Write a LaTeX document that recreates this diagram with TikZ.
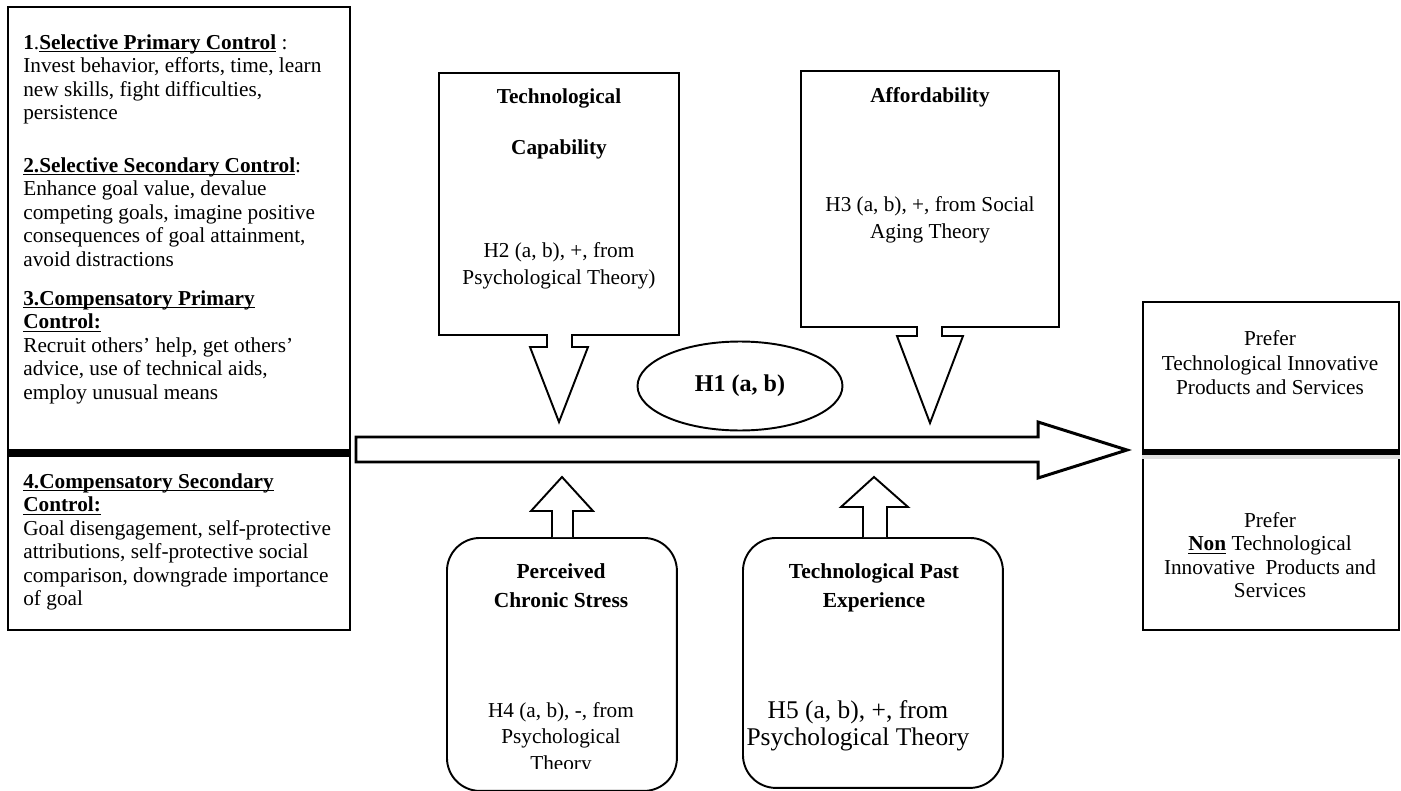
\documentclass[tikz,border=0pt]{standalone}
\usepackage{fontspec}
\setmainfont{Liberation Serif}
\usetikzlibrary{shapes.geometric,positioning}

\newcommand{\undl}[1]{\underline{\smash{#1}}}

\tikzset{
  panel/.style={draw, line width=1.1pt},
  txt/.style={inner sep=0pt, font=\fontsize{12.1}{13.35}\selectfont},
  midtxt/.style={inner sep=0pt, align=center, font=\fontsize{12.1}{15.3}\selectfont},
  factor/.style={draw, line width=1.1pt, rounded corners=0.66cm, anchor=north west},
  blockarrow/.style={draw, fill=white, line width=1.1pt, line join=miter},
  divider/.style={line width=4pt}
}

\begin{document}
\begin{tikzpicture}[x=0.02cm, y=-0.02cm]
    \useasboundingbox (0,0) rectangle (1401,791);

    % Control strategies
    \node[panel, anchor=north west, minimum width=6.84cm, minimum height=12.46cm] (ctrl) at (7,6) {};
    \draw[divider] (ctrl.west |- 0,453) -- (ctrl.east |- 0,453);
    \node[txt, anchor=north west, align=left] (secone) at (23,35)
        {\textbf{1}.\textbf{\undl{Selective Primary Control}} :\\
         Invest behavior, efforts, time, learn\\
         new skills, fight difficulties,\\
         persistence};
    \node[txt, anchor=north west, align=left] (sectwo) at (23,162)
        {\textbf{\undl{2.Selective Secondary Control}}:\\
         Enhance goal value, devalue\\
         competing goals, imagine positive\\
         consequences of goal attainment,\\
         avoid distractions};
    \node[txt, anchor=north west, align=left] (secthree) at (23,305)
        {\textbf{\undl{3.Compensatory Primary}}\\
         \textbf{\undl{Control:}}\\
         Recruit others' help, get others'\\
         advice, use of technical aids,\\
         employ unusual means};
    \node[txt, anchor=north west, align=left] (secfour) at (23,488)
        {\textbf{\undl{4.Compensatory Secondary}}\\
         \textbf{\undl{Control:}}\\
         Goal disengagement, self-protective\\
         attributions, self-protective social\\
         comparison, downgrade importance\\
         of goal};

    % Outcome
    \node[panel, anchor=north west, minimum width=5.12cm, minimum height=6.56cm] (pref) at (1142,301) {};
    \draw[gray!25, line width=2pt] (pref.west |- 0,457) -- (pref.east |- 0,457);
    \draw[line width=3.4pt] (pref.west |- 0,452) -- (pref.east |- 0,452);
    \node[txt, anchor=north, align=center, font=\fontsize{12.1}{14.1}\selectfont] (preftop) at (1270,330)
        {Prefer\\Technological Innovative\\Products and Services};
    \node[txt, anchor=north, align=center, font=\fontsize{12.1}{13.35}\selectfont] (prefbot) at (1270,512)
        {Prefer\\\textbf{\undl{Non}} Technological\\Innovative~ Products and\\Services};

    % Main effect
    \draw[blockarrow, line width=1.7pt] (356,437) -- (1038,437) -- (1038,422) -- (1127,450)
        -- (1038,478) -- (1038,462) -- (356,462) -- cycle;
    \node[panel, ellipse, minimum width=4.1cm, minimum height=1.78cm,
        font=\fontsize{13.7}{15}\selectfont\bfseries] (hone) at (740,386) {H1 (a, b)};

    % Moderators above
    \draw[blockarrow] (439,73) -- (679,73) -- (679,335) -- (572,335) -- (572,347) -- (588,347)
        -- (559,422) -- (530,347) -- (547,347) -- (547,335) -- (439,335) -- cycle;
    \node[midtxt, anchor=north, font=\fontsize{12.1}{15}\selectfont\bfseries] (captitle) at (559,88)
        {Technological\\[0.5cm]Capability};
    \node[midtxt, anchor=north] (caphyp) at (559,242) {H2 (a, b), +, from\\Psychological Theory)};

    \draw[blockarrow] (801,71) -- (1059,71) -- (1059,327) -- (942,327) -- (942,336) -- (963,336)
        -- (930,423) -- (897,336) -- (917,336) -- (917,327) -- (801,327) -- cycle;
    \node[midtxt, anchor=north, font=\fontsize{12.1}{15}\selectfont\bfseries] (afftitle) at (930,87) {Affordability};
    \node[midtxt, anchor=north] (affhyp) at (930,196) {H3 (a, b), +, from Social\\Aging Theory};

    % Moderators below
    \node[factor, minimum width=4.6cm, minimum height=5.06cm] (stress) at (446,537) {};
    \draw[blockarrow] (552,537) -- (552,511) -- (531,511) -- (562,477) -- (593,511) -- (573,511) -- (573,537);
    \node[midtxt, anchor=north, font=\fontsize{12.2}{16.4}\selectfont\bfseries] (stresstitle) at (561,563)
        {Perceived\\Chronic Stress};
    \begin{scope}
        \clip (446,537) rectangle (676,768);
        \node[midtxt, anchor=north, font=\fontsize{12.1}{15}\selectfont] (stresshyp) at (561,702)
            {H4 (a, b), -, from\\Psychological\\Theory};
    \end{scope}

    \node[factor, minimum width=5.2cm, minimum height=5cm] (past) at (742,537) {};
    \draw[blockarrow] (863,537) -- (863,507) -- (841,507) -- (874,477) -- (908,507) -- (887,507) -- (887,537);
    \node[midtxt, anchor=north, font=\fontsize{12.2}{16.4}\selectfont\bfseries] (pasttitle) at (874,563)
        {Technological Past\\Experience};
    \node[midtxt, anchor=north, font=\fontsize{14.5}{15.3}\selectfont] (pasthyp) at (858,700)
        {H5 (a, b), +, from\\Psychological Theory};
\end{tikzpicture}
\end{document}
